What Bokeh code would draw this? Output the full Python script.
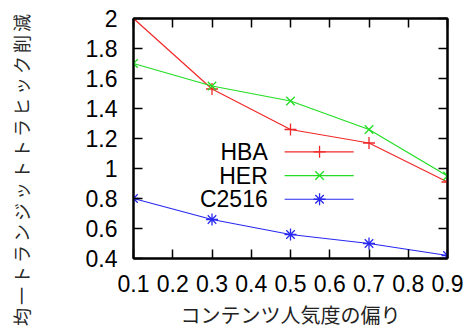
from bokeh.plotting import figure
from bokeh.layouts import row
from bokeh.models import LinearAxis, FixedTicker, Range1d, Div
from bokeh.core.properties import value
from bokeh.embed import file_html
from bokeh.resources import INLINE

# ---- data ----
popularity_bias = [0.1, 0.3, 0.5, 0.7, 0.9]
hba = [2.00, 1.53, 1.26, 1.17, 0.91]
her = [1.70, 1.55, 1.45, 1.26, 0.95]
c2516 = [0.80, 0.66, 0.56, 0.50, 0.42]
series_names = ["HBA", "HER", "C2516"]
x_ticks = [0.1, 0.2, 0.3, 0.4, 0.5, 0.6, 0.7, 0.8, 0.9]
x_tick_labels = ["0.1", "0.2", "0.3", "0.4", "0.5", "0.6", "0.7", "0.8", "0.9"]
y_ticks = [0.4, 0.6, 0.8, 1.0, 1.2, 1.4, 1.6, 1.8, 2.0]
y_tick_labels = ["0.4", "0.6", "0.8", "1", "1.2", "1.4", "1.6", "1.8", "2"]
x_title = "コンテンツ人気度の偏り"
y_title = "均一トランジットトラヒック削減"

# ---- styles ----
colors = ["#f02828", "#22dd22", "#2828f0"]
markers = ["cross", "x", "asterisk"]
latin = "Liberation Sans"
cjk = "Noto Sans CJK JP"

# rotated y title spanning the full picture height (gnuplot style)
y_title_div = Div(
    text=('<div style="writing-mode: vertical-rl; text-orientation: sideways; '
          'transform: rotate(180deg); font-family: \'Noto Sans CJK JP\'; '
          'font-size: 18px; letter-spacing: 3px; color: #2a2a2a; '
          'width: 24px; height: 325px; margin-top: 6px; margin-left: 9px; '
          'line-height: 24px; text-align: center; white-space: nowrap;">'
          + y_title + '</div>'),
    width=36, height=331, margin=0)

p = figure(width=432, height=331, output_backend="svg", toolbar_location=None,
           x_range=Range1d(0.1, 0.9), y_range=Range1d(0.4, 2.0),
           min_border_left=97, min_border_right=21, min_border_top=18,
           min_border_bottom=70, background_fill_color="white",
           border_fill_color="white")
p.grid.visible = False
p.outline_line_color = "black"
p.outline_line_width = 2

def style(ax, show_labels):
    ax.axis_line_color = "black"
    ax.axis_line_width = 2
    ax.major_tick_in = 9
    ax.major_tick_out = 0
    ax.major_tick_line_width = 1.5
    ax.major_tick_line_color = "black"
    ax.minor_tick_line_color = None
    if show_labels:
        ax.major_label_text_font = latin
        ax.major_label_text_font_size = "23px"
        ax.major_label_text_color = "black"
    else:
        ax.major_label_text_font_size = "1px"
        ax.major_label_text_color = None
        ax.major_label_standoff = 0

xa = p.xaxis[0]
ya = p.yaxis[0]
xa.ticker = FixedTicker(ticks=x_ticks)
ya.ticker = FixedTicker(ticks=y_ticks)
xa.major_label_overrides = {t: l for t, l in zip(x_ticks, x_tick_labels)}
ya.major_label_overrides = {t: l for t, l in zip(y_ticks, y_tick_labels)}
style(xa, True)
style(ya, True)
xa.major_label_standoff = 16
ya.major_label_standoff = 16
xa.axis_label = x_title
xa.axis_label_text_font = cjk
xa.axis_label_text_font_size = "20px"
xa.axis_label_text_font_style = "normal"
xa.axis_label_text_color = "#222222"
xa.axis_label_standoff = 5

top = LinearAxis(ticker=FixedTicker(ticks=x_ticks),
                 major_label_overrides={t: "" for t in x_ticks})
style(top, False)
p.add_layout(top, "above")
right = LinearAxis(ticker=FixedTicker(ticks=y_ticks),
                   major_label_overrides={t: "" for t in y_ticks})
style(right, False)
p.add_layout(right, "right")

# ---- series ----
for ys, c, m in zip([hba, her, c2516], colors, markers):
    p.line(popularity_bias, ys, line_color=c, line_width=1.2)
    p.scatter(popularity_bias, ys, marker=m, size=12, line_color=c,
              fill_color=None, line_width=1.3)

# ---- legend (label left, sample right, gnuplot style) ----
leg_text_x = 0.442
leg_x0, leg_x1, leg_xm = 0.485, 0.661, 0.574
leg_rows = [1.111, 0.953, 0.795]
p.text(x=[leg_text_x] * 3, y=leg_rows, text=series_names, text_align="right",
       text_baseline="middle", text_font=value(latin), text_font_size="23px",
       text_color="black")
p.segment(x0=[leg_x0] * 3, x1=[leg_x1] * 3, y0=leg_rows, y1=leg_rows,
          line_color=colors, line_width=1.2)
for r, c, m in zip(leg_rows, colors, markers):
    p.scatter([leg_xm], [r], marker=m, size=12, line_color=c, fill_color=None,
              line_width=1.3)

layout = row(y_title_div, p, spacing=0)
open("out.html", "w").write(file_html(layout, INLINE))
